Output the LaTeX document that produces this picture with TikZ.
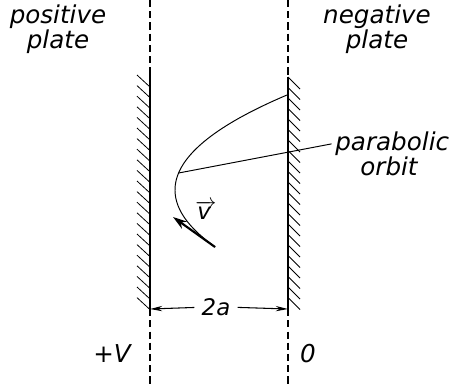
\documentclass[tikz,border=0pt]{standalone}
\usepackage{fontspec}
\setmainfont{DejaVu Sans}
\usetikzlibrary{arrows.meta, positioning, calc}

\begin{document}
\begin{tikzpicture}[x=0.02cm, y=-0.02cm,
    every node/.style={font=\fontsize{14}{14}\selectfont\itshape, inner sep=0pt},
    plate/.style={line width=1.1pt},
    hatch/.style={line width=0.45pt},
    guide/.style={line width=0.6pt, dash pattern=on 4pt off 2.4pt},
    orbitline/.style={line width=0.55pt},
    dimline/.style={line width=0.6pt, -{Stealth[length=7pt, width=3pt]}}]
    \useasboundingbox[fill=white] (0,0) rectangle (460,387);

    % plates
    \coordinate (Lup)   at (150,0);
    \coordinate (Ltop)  at (150,73);
    \coordinate (Lbot)  at (150,309);
    \coordinate (Ldown) at (150,387);
    \coordinate (Rup)   at (288,0);
    \coordinate (Rtop)  at (288,77);
    \coordinate (Rbot)  at (288,309);
    \coordinate (Rdown) at (288,387);
    \draw[guide] (Lup) -- (Ltop);
    \draw[guide] (Lbot) -- (Ldown);
    \draw[guide] (Rup) -- (Rtop);
    \draw[guide] (Rbot) -- (Rdown);
    \draw[plate] (Ltop) -- (Lbot);
    \draw[plate] (Rtop) -- (Rbot);
    \foreach \i in {0,...,21} {
      \draw[hatch] (137,{75+10.6*\i}) -- ++(13,12);
      \draw[hatch] (288,{77+10.5*\i}) -- ++(12,12);
    }

    % orbit and velocity
    \draw[orbitline] plot[domain=95:247, samples=60, variable=\t]
      ({175+0.0124*(\t-190)*(\t-190)}, \t);
    \coordinate (tap)   at ({175+0.0124*17*17}, 173);
    \coordinate (vtail) at (215,247);
    \coordinate (vtip)  at (173,217);
    \draw[line width=1.2pt, -{Stealth[length=8pt, width=5pt]}] (vtail) -- (vtip);
    \node[font=\fontsize{13}{13}\selectfont\itshape] (vel) at (206,210)
      {$\overrightarrow{\hbox{v\,}}$};

    % labels
    \node[align=center] (pos) at (58,29) {positive\\plate};
    \node[align=center] (neg) at (377,29) {negative\\plate};
    \node[anchor=base west] (parab) at (335,150) {parabolic};
    \node[anchor=base] (orb) at (389,175) {orbit};
    \draw[orbitline, shorten >=2pt] (tap) -- (parab.west);
    \node[anchor=base] (plusV) at (112,362) {+V};
    \node[anchor=base] (zero) at (308,362) {0};

    % gap between plates
    \node[anchor=base, inner xsep=4pt, font=\fontsize{13}{13}\selectfont\itshape]
      (gap) at (216,315) {2a};
    \draw[dimline] (gap) -- (Lbot);
    \draw[dimline] (gap) -- (Rbot);
\end{tikzpicture}
\end{document}
